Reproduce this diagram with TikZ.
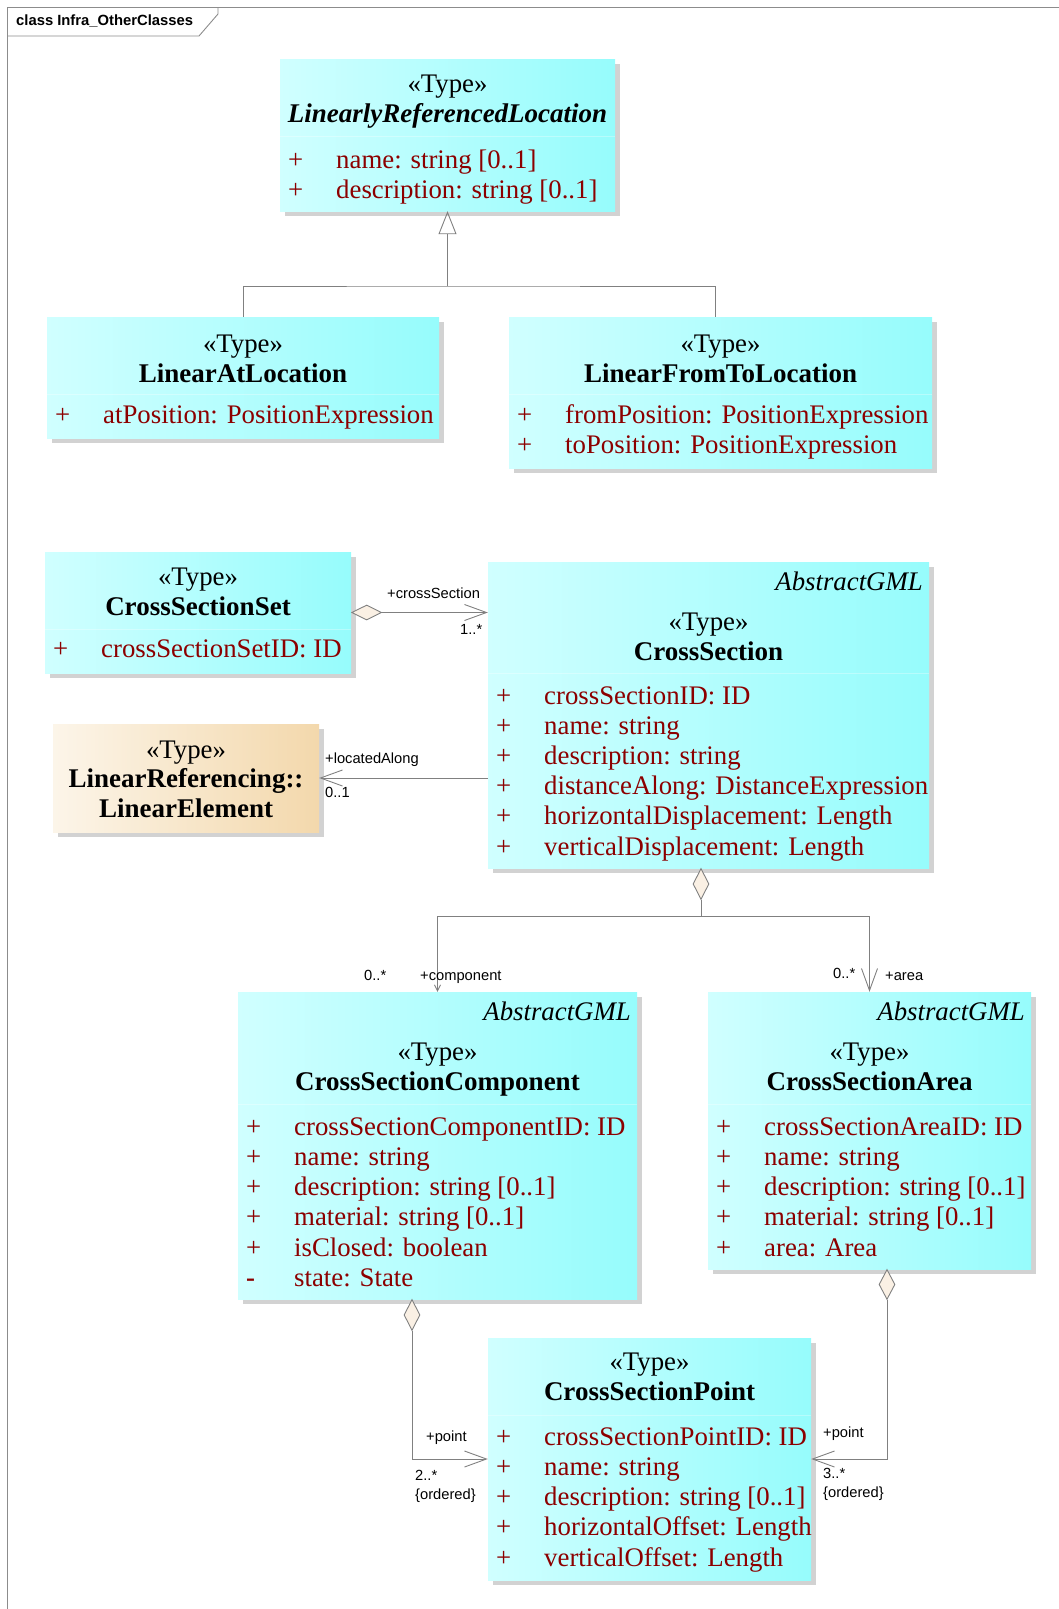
\documentclass[tikz,border=0pt]{standalone}
\usepackage{fontspec}
\setmainfont{Liberation Serif}
\setsansfont{Liberation Sans}
\usetikzlibrary{arrows.meta,shapes.geometric,shadows}

\definecolor{clsL}{RGB}{208,255,255}
\definecolor{clsR}{RGB}{150,252,252}
\definecolor{tanL}{RGB}{252,245,233}
\definecolor{tanR}{RGB}{243,216,172}
\definecolor{shadowc}{RGB}{210,210,210}
\definecolor{attrc}{RGB}{140,0,0}
\definecolor{linec}{RGB}{128,128,128}
\definecolor{framec}{RGB}{140,140,140}
\definecolor{diamc}{RGB}{250,240,228}

% one attribute row: name, box left x, baseline y, visibility sign, text
\newcommand\umlattr[5]{%
  \node[attrsign] (#1s) at (#2+8,#3) {#4};
  \node[attrtext] (#1) at (#2+56,#3) {#5};}

\begin{document}
\begin{tikzpicture}[x=1pt,y=-1pt,
  classbox/.style={rectangle, inner sep=0pt, draw=none, left color=clsL, right color=clsR,
    drop shadow={shadow xshift=5pt, shadow yshift=-5pt, fill=shadowc, opacity=1}},
  tanbox/.style={classbox, left color=tanL, right color=tanR},
  stereo/.style={anchor=base, inner sep=0pt, font=\fontsize{26.8}{30}\selectfont},
  clsname/.style={anchor=base, inner sep=0pt, font=\fontsize{27}{30}\selectfont\bfseries},
  absname/.style={clsname, font=\fontsize{27}{30}\selectfont\bfseries\itshape},
  gmltag/.style={anchor=base east, inner sep=0pt, font=\fontsize{26.8}{30}\selectfont\itshape},
  attrsign/.style={anchor=base west, inner sep=0pt, text=attrc, font=\fontsize{26.8}{30}\selectfont},
  attrtext/.style={attrsign},
  sepline/.style={draw=white, line width=0.8pt, opacity=0.3},
  lbl/.style={anchor=base west, inner sep=0pt, font=\sffamily\fontsize{14.7}{17}\selectfont},
  conn/.style={draw=linec, line width=0.9pt},
  barb/.style={conn, -{Straight Barb[length=22pt,width=16pt]}},
  smallbarb/.style={conn, -{Straight Barb[length=6pt,width=6pt]}},
  gen/.style={conn, -{Triangle[open,length=23pt,width=18pt]}},
  diam/.style={diamond, draw=linec, fill=diamc, line width=0.9pt, inner sep=0pt}
]
\useasboundingbox (0,0) rectangle (1059,1609);

% diagram frame with its name tab
\draw[framec, line width=0.9pt] (7.5,1609) -- (7.5,7.5) -- (1059,7.5);
\draw[framec, line width=0.9pt] (7.5,36) -- (199,36) -- (218,14) -- (218,7.5);
\node[anchor=base west, inner sep=0pt, font=\sffamily\bfseries\fontsize{14.8}{17}\selectfont] (frametitle) at (16,25) {class Infra\_OtherClasses};

% ---------- class boxes ----------
\node[classbox, minimum width=335pt, minimum height=152pt] (lrl) at (447.5,135) {};
\node[classbox, minimum width=392pt, minimum height=121pt] (lal) at (243,377.5) {};
\node[classbox, minimum width=423pt, minimum height=151pt] (lft) at (720.5,392.5) {};
\node[classbox, minimum width=306pt, minimum height=121pt] (set) at (198,612.5) {};
\node[tanbox,   minimum width=266pt, minimum height=108pt] (le)  at (186,778) {};
\node[classbox, minimum width=441pt, minimum height=306pt] (cs)  at (708.5,715) {};
\node[classbox, minimum width=399pt, minimum height=307pt] (cmp) at (437.5,1145.5) {};
\node[classbox, minimum width=323pt, minimum height=277pt] (area) at (869.5,1130.5) {};
\node[classbox, minimum width=323pt, minimum height=242pt] (pt)  at (649.5,1459) {};

% compartment separators
\draw[sepline] (lrl.west |- 0,136) -- (lrl.east |- 0,136);
\draw[sepline] (lal.west |- 0,394) -- (lal.east |- 0,394);
\draw[sepline] (lft.west |- 0,394) -- (lft.east |- 0,394);
\draw[sepline] (set.west |- 0,629) -- (set.east |- 0,629);
\draw[sepline] (cs.west |- 0,673) -- (cs.east |- 0,673);
\draw[sepline] (cmp.west |- 0,1104) -- (cmp.east |- 0,1104);
\draw[sepline] (area.west |- 0,1104) -- (area.east |- 0,1104);
\draw[sepline] (pt.west |- 0,1415) -- (pt.east |- 0,1415);

% LinearlyReferencedLocation
\node[stereo]  (lrlst) at (447.5,92) {«Type»};
\node[absname] (lrlnm) at (447.5,122) {LinearlyReferencedLocation};
\umlattr{lrla}{280}{168}{+}{name: string [0..1]}
\umlattr{lrlb}{280}{198}{+}{description: string [0..1]}

% LinearAtLocation
\node[stereo]  (lalst) at (243,352) {«Type»};
\node[clsname] (lalnm) at (243,382) {LinearAtLocation};
\umlattr{lala}{47}{423}{+}{atPosition: PositionExpression}

% LinearFromToLocation
\node[stereo]  (lftst) at (720.5,352) {«Type»};
\node[clsname] (lftnm) at (720.5,382) {LinearFromToLocation};
\umlattr{lfta}{509}{423}{+}{fromPosition: PositionExpression}
\umlattr{lftb}{509}{453}{+}{toPosition: PositionExpression}

% CrossSectionSet
\node[stereo]  (setst) at (198,585) {«Type»};
\node[clsname] (setnm) at (198,615) {CrossSectionSet};
\umlattr{seta}{45}{657}{+}{crossSectionSetID: ID}

% LinearReferencing::LinearElement
\node[stereo]  (lest)  at (186,758) {«Type»};
\node[clsname] (lenm1) at (186,787) {LinearReferencing::};
\node[clsname] (lenm2) at (186,817) {LinearElement};

% CrossSection
\node[gmltag]  (csgml) at (923,590) {AbstractGML};
\node[stereo]  (csst)  at (708.5,630) {«Type»};
\node[clsname] (csnm)  at (708.5,660) {CrossSection};
\umlattr{csa}{488}{704}{+}{crossSectionID: ID}
\umlattr{csb}{488}{734.2}{+}{name: string}
\umlattr{csc}{488}{764.4}{+}{description: string}
\umlattr{csd}{488}{794.6}{+}{distanceAlong: DistanceExpression}
\umlattr{cse}{488}{824.8}{+}{horizontalDisplacement: Length}
\umlattr{csf}{488}{855}{+}{verticalDisplacement: Length}

% CrossSectionComponent
\node[gmltag]  (cmpgml) at (631,1020) {AbstractGML};
\node[stereo]  (cmpst)  at (437.5,1060) {«Type»};
\node[clsname] (cmpnm)  at (437.5,1090) {CrossSectionComponent};
\umlattr{cmpa}{238}{1135}{+}{crossSectionComponentID: ID}
\umlattr{cmpb}{238}{1165.3}{+}{name: string}
\umlattr{cmpc}{238}{1195.6}{+}{description: string [0..1]}
\umlattr{cmpd}{238}{1225.9}{+}{material: string [0..1]}
\umlattr{cmpe}{238}{1256.2}{+}{isClosed: boolean}
\umlattr{cmpf}{238}{1286.5}{\bfseries -}{state: State}

% CrossSectionArea
\node[gmltag]  (areagml) at (1025,1020) {AbstractGML};
\node[stereo]  (areast)  at (869.5,1060) {«Type»};
\node[clsname] (areanm)  at (869.5,1090) {CrossSectionArea};
\umlattr{areaa}{708}{1135}{+}{crossSectionAreaID: ID}
\umlattr{areab}{708}{1165.3}{+}{name: string}
\umlattr{areac}{708}{1195.6}{+}{description: string [0..1]}
\umlattr{aread}{708}{1225.9}{+}{material: string [0..1]}
\umlattr{areae}{708}{1256.2}{+}{area: Area}

% CrossSectionPoint
\node[stereo]  (ptst) at (649.5,1370) {«Type»};
\node[clsname] (ptnm) at (649.5,1400) {CrossSectionPoint};
\umlattr{pta}{488}{1445}{+}{crossSectionPointID: ID}
\umlattr{ptb}{488}{1475.3}{+}{name: string}
\umlattr{ptc}{488}{1505.6}{+}{description: string [0..1]}
\umlattr{ptd}{488}{1535.9}{+}{horizontalOffset: Length}
\umlattr{pte}{488}{1566.2}{+}{verticalOffset: Length}

% ---------- connectors ----------
% generalization
\coordinate (genj) at (447.5,286);
\coordinate (lftin) at (715,317);
\draw[conn] (lal.north) |- (genj) -| (lftin);
\draw[gen] (genj) -- (lrl.south);

% CrossSectionSet <>-- CrossSection
\node[diam, minimum width=30pt, minimum height=15pt, anchor=west] (dset) at (set.east) {};
\draw[barb] (dset.east) -- (dset.east -| cs.west);
\node[lbl] (lcs)  at (387,598) {+crossSection};
\node[lbl] (lcsm) at (460,634) {1..*};

% CrossSection --> LinearElement
\draw[barb] (le.east -| cs.west) -- (le.east);
\node[lbl] (lla)  at (325,763) {+locatedAlong};
\node[lbl] (llam) at (325,797) {0..1};

% CrossSection <>-- component / area
\node[diam, minimum width=16pt, minimum height=31pt, anchor=north] (dcs) at (701,868) {};
\coordinate (csj) at (701,916);
\draw[conn] (dcs.south) -- (csj);
\draw[smallbarb] (csj) -| (cmp.north);
\draw[barb] (csj) -| (area.north);
\node[lbl] (lcmpm) at (364,980) {0..*};
\node[lbl] (lcmp)  at (420,980) {+component};
\node[lbl] (laream) at (833,978) {0..*};
\node[lbl] (larea)  at (885,980) {+area};

% component <>-- point
\node[diam, minimum width=16pt, minimum height=31pt, anchor=north] (dcmp) at (412,1299) {};
\draw[barb] (dcmp.south) |- (pt.west);
\node[lbl] (lp1)  at (426,1441) {+point};
\node[lbl] (lp1m) at (415,1480) {2..*};
\node[lbl] (lp1o) at (415,1499) {\{ordered\}};

% area <>-- point
\node[diam, minimum width=16pt, minimum height=30pt, anchor=north] (darea) at (887,1269) {};
\draw[barb] (darea.south) |- (pt.east);
\node[lbl] (lp2)  at (823,1437) {+point};
\node[lbl] (lp2m) at (823,1478) {3..*};
\node[lbl] (lp2o) at (823,1497) {\{ordered\}};
\end{tikzpicture}
\end{document}
